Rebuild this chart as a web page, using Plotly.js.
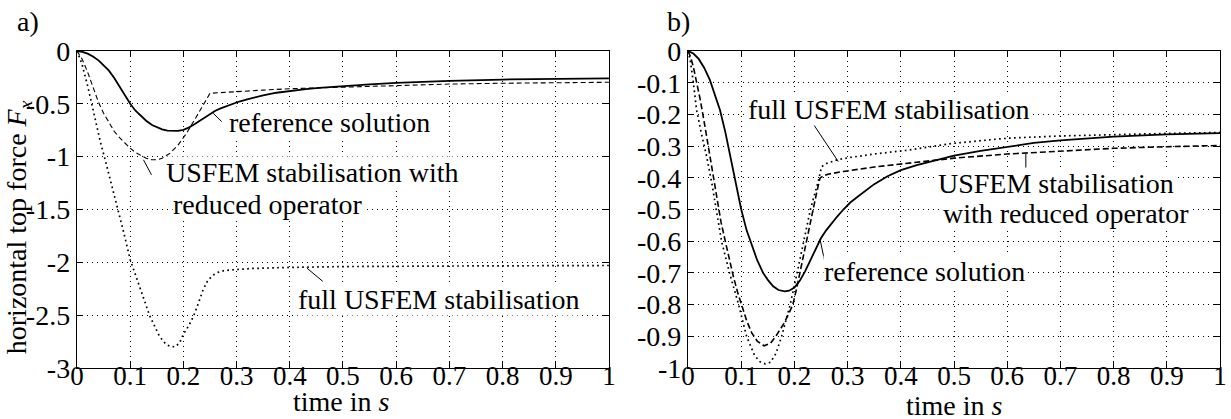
<!DOCTYPE html>
<html>
<head>
<meta charset="utf-8">
<script src="https://cdn.plot.ly/plotly-3.0.1.min.js"></script>
<style>html,body{margin:0;padding:0;background:#fff;}#chart{width:1231px;height:419px;}</style>
</head>
<body>
<div id="chart"></div>
<script>
// ---- data ----
const refT = [0, 0.01, 0.02, 0.03, 0.041, 0.05, 0.06, 0.07, 0.08, 0.09, 0.1, 0.11, 0.117, 0.13, 0.141, 0.15, 0.16, 0.17, 0.182, 0.19, 0.2, 0.21, 0.22, 0.235, 0.25, 0.26, 0.27, 0.28, 0.292, 0.305, 0.32, 0.335, 0.35, 0.375, 0.4, 0.43, 0.455, 0.5, 0.55, 0.6, 0.65, 0.7, 0.8, 0.9, 1.0];
const refF = [0, -0.008, -0.025, -0.052, -0.091, -0.135, -0.186, -0.255, -0.335, -0.42, -0.5, -0.565, -0.6, -0.66, -0.7, -0.722, -0.742, -0.754, -0.758, -0.756, -0.746, -0.725, -0.695, -0.645, -0.59, -0.565, -0.543, -0.523, -0.5, -0.478, -0.458, -0.438, -0.42, -0.395, -0.376, -0.36, -0.349, -0.33, -0.315, -0.302, -0.29, -0.282, -0.27, -0.263, -0.259];

const redAT = [0, 0.01, 0.02, 0.03, 0.04, 0.05, 0.06, 0.07, 0.08, 0.09, 0.1, 0.11, 0.12, 0.13, 0.14, 0.15, 0.16, 0.175, 0.19, 0.206, 0.22, 0.231, 0.242, 0.25, 0.27, 0.3, 0.35, 0.4, 0.5, 0.6, 0.7, 0.8, 0.9, 1.0];
const redAF = [0, -0.08, -0.2, -0.34, -0.48, -0.59, -0.68, -0.76, -0.82, -0.875, -0.92, -0.96, -0.99, -1.015, -1.028, -1.03, -1.015, -0.967, -0.89, -0.778, -0.66, -0.558, -0.47, -0.4, -0.393, -0.385, -0.37, -0.357, -0.343, -0.322, -0.313, -0.305, -0.3, -0.296];

const fullAT = [0, 0.009, 0.02, 0.031, 0.043, 0.056, 0.075, 0.088, 0.1, 0.118, 0.137, 0.155, 0.167, 0.175, 0.185, 0.193, 0.2, 0.21, 0.219, 0.228, 0.237, 0.246, 0.256, 0.265, 0.275, 0.294, 0.33, 0.4, 0.5, 0.7, 1.0];
const fullAF = [0, -0.117, -0.33, -0.589, -0.84, -1.09, -1.46, -1.72, -1.975, -2.23, -2.51, -2.7, -2.775, -2.795, -2.8, -2.76, -2.68, -2.6, -2.51, -2.39, -2.26, -2.17, -2.12, -2.095, -2.08, -2.07, -2.058, -2.048, -2.04, -2.035, -2.03];

const redBT = [0, 0.005, 0.01, 0.016, 0.023, 0.032, 0.041, 0.054, 0.062, 0.07, 0.078, 0.085, 0.093, 0.1, 0.11, 0.12, 0.13, 0.143, 0.155, 0.165, 0.173, 0.18, 0.189, 0.197, 0.204, 0.21, 0.217, 0.223, 0.23, 0.237, 0.242, 0.248, 0.255, 0.265, 0.28, 0.292, 0.35, 0.417, 0.455, 0.5, 0.6, 0.7, 0.8, 0.9, 1.0];
const redBF = [0, -0.02, -0.05, -0.095, -0.154, -0.24, -0.333, -0.47, -0.54, -0.6, -0.66, -0.71, -0.76, -0.8, -0.85, -0.89, -0.915, -0.93, -0.922, -0.9, -0.88, -0.86, -0.83, -0.8, -0.75, -0.7, -0.65, -0.6, -0.54, -0.485, -0.445, -0.401, -0.393, -0.388, -0.383, -0.38, -0.366, -0.354, -0.347, -0.338, -0.325, -0.317, -0.307, -0.302, -0.298];

const fullBT = [0, 0.004, 0.01, 0.016, 0.025, 0.035, 0.045, 0.053, 0.063, 0.078, 0.095, 0.11, 0.125, 0.135, 0.145, 0.155, 0.165, 0.176, 0.192, 0.205, 0.218, 0.23, 0.24, 0.245, 0.251, 0.26, 0.279, 0.3, 0.35, 0.417, 0.5, 0.6, 0.7, 0.8, 0.9, 1.0];
const fullBF = [0, -0.028, -0.1, -0.186, -0.26, -0.333, -0.42, -0.5, -0.6, -0.7, -0.8, -0.9, -0.96, -0.98, -0.987, -0.982, -0.955, -0.9, -0.8, -0.7, -0.6, -0.5, -0.44, -0.41, -0.365, -0.355, -0.344, -0.337, -0.325, -0.312, -0.291, -0.275, -0.268, -0.263, -0.26, -0.257];

const xTickVals = [0, 0.1, 0.2, 0.3, 0.4, 0.5, 0.6, 0.7, 0.8, 0.9, 1];
const xTickText = ["0", "0.1", "0.2", "0.3", "0.4", "0.5", "0.6", "0.7", "0.8", "0.9", "1"];
const yATickVals = [0, -0.5, -1, -1.5, -2, -2.5, -3];
const yATickText = ["0", "-0.5", "-1", "-1.5", "-2", "-2.5", "-3"];
const yBTickVals = [0, -0.1, -0.2, -0.3, -0.4, -0.5, -0.6, -0.7, -0.8, -0.9, -1];
const yBTickText = ["0", "-0.1", "-0.2", "-0.3", "-0.4", "-0.5", "-0.6", "-0.7", "-0.8", "-0.9", "-1"];

// ---- styling ----
const FONT = "Liberation Serif, Times New Roman, serif";
const solid = {color: "#000", width: 1.8};
const dashedA = {color: "#000", width: 1.1, dash: "5px,3px"};
const dashedB = {color: "#000", width: 1.6, dash: "6px,3px"};
const dotted = {color: "#000", width: 1.7, dash: "1.7px,3.3px"};

const traces = [
  {x: refT, y: refF, xaxis: "x", yaxis: "y", mode: "lines", line: solid, hoverinfo: "skip"},
  {x: redAT, y: redAF, xaxis: "x", yaxis: "y", mode: "lines", line: dashedA, hoverinfo: "skip"},
  {x: fullAT, y: fullAF, xaxis: "x", yaxis: "y", mode: "lines", line: dotted, hoverinfo: "skip"},
  {x: refT, y: refF, xaxis: "x2", yaxis: "y2", mode: "lines", line: solid, hoverinfo: "skip"},
  {x: redBT, y: redBF, xaxis: "x2", yaxis: "y2", mode: "lines", line: dashedB, hoverinfo: "skip"},
  {x: fullBT, y: fullBF, xaxis: "x2", yaxis: "y2", mode: "lines", line: dotted, hoverinfo: "skip"}
];

const XTICKFONT = {family: FONT, size: 27, color: "#000"};
const YTICKFONT = {family: FONT, size: 28, color: "#000"};
function xax(domain, anchor) {
  return {
    domain: domain, anchor: anchor, range: [0, 1], tickvals: xTickVals, ticktext: xTickText,
    showgrid: true, gridcolor: "#000", gridwidth: 1, griddash: "1px,4px",
    showline: true, mirror: "ticks", linecolor: "#000", linewidth: 1.2,
    ticks: "inside", ticklen: 6, tickcolor: "#000", tickwidth: 1, ticklabelstandoff: -17,
    zeroline: false, tickfont: XTICKFONT, fixedrange: true
  };
}
function yax(range, tv, tt, anchor) {
  return {
    anchor: anchor, range: range, tickvals: tv, ticktext: tt,
    showgrid: true, gridcolor: "#000", gridwidth: 1, griddash: "1px,4px",
    showline: true, mirror: "ticks", linecolor: "#000", linewidth: 1.2,
    ticks: "inside", ticklen: 6, tickcolor: "#000", tickwidth: 1,
    zeroline: false, tickfont: YTICKFONT, fixedrange: true
  };
}

const txt = {family: FONT, size: 28, color: "#000"};
function lab(text, xref, yref, x, y, xanchor) {
  return {text: text, xref: xref, yref: yref, x: x, y: y, xanchor: xanchor || "left", yanchor: "middle",
          showarrow: false, font: txt, bgcolor: "#fff", borderpad: 0};
}
function leader(xref, yref, x0, y0, x1, y1) {
  return {type: "line", xref: xref, yref: yref, x0: x0, y0: y0, x1: x1, y1: y1, line: {color: "#000", width: 1}};
}

const layout = {
  width: 1231, height: 419,
  margin: {l: 77, r: 11, t: 51, b: 51},
  paper_bgcolor: "#fff", plot_bgcolor: "#fff",
  showlegend: false,
  font: {family: FONT, size: 28, color: "#000"},
  xaxis: xax([0, 0.4654], "y"),
  yaxis: yax([-3, 0], yATickVals, yATickText, "x"),
  xaxis2: xax([0.5346, 1], "y2"),
  yaxis2: yax([-1, 0], yBTickVals, yBTickText, "x2"),
  annotations: [
    lab("a)", "paper", "paper", -0.0429, 1.094, "center"),
    Object.assign(lab("b)", "paper", "paper", 0.5263, 1.094, "center"), {bgcolor: "rgba(0,0,0,0)"}),
    Object.assign(lab("horizontal top force <i>F<sub>x</sub></i>", "paper", "paper", -0.0505, 0.445, "center"), {textangle: -90, bgcolor: "rgba(0,0,0,0)"}),
    Object.assign(lab("time in <i>s</i>", "paper", "paper", 0.231, -0.105, "center"), {bgcolor: "rgba(0,0,0,0)"}),
    Object.assign(lab("time in <i>s</i>", "paper", "paper", 0.768, -0.118, "center"), {bgcolor: "rgba(0,0,0,0)"}),
    lab("reference solution", "x", "y", 0.284, -0.68),
    lab("USFEM stabilisation with", "x", "y", 0.165, -1.153),
    lab("reduced operator", "x", "y", 0.179, -1.456),
    lab("full USFEM stabilisation", "x", "y", 0.413, -2.353),
    lab("full USFEM stabilisation", "x2", "y2", 0.1107, -0.186),
    lab("USFEM stabilisation", "x2", "y2", 0.4675, -0.417),
    lab("with reduced operator", "x2", "y2", 0.4769, -0.5115),
    lab("reference solution", "x2", "y2", 0.2543, -0.6956)
  ],
  shapes: [
    leader("x", "y", 0.256, -0.589, 0.272, -0.668),
    leader("x", "y", 0.125, -1.03, 0.140, -1.172),
    leader("x", "y", 0.432, -2.054, 0.462, -2.18),
    leader("x2", "y2", 0.2325, -0.223, 0.2825, -0.349),
    leader("x2", "y2", 0.635, -0.3246, 0.635, -0.391),
    leader("x2", "y2", 0.248, -0.593, 0.2575, -0.669)
  ]
};

Plotly.newPlot("chart", traces, layout, {displayModeBar: false, staticPlot: true});
</script>
</body>
</html>
